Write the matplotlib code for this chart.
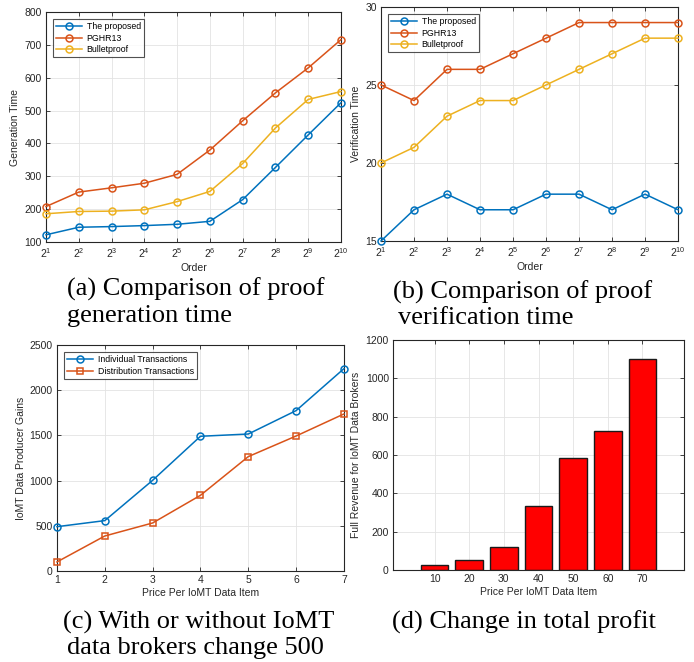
import matplotlib
matplotlib.use("Agg")
import matplotlib.pyplot as plt

plt.rcParams["font.family"] = ["Liberation Sans", "DejaVu Sans"]
plt.rcParams["mathtext.default"] = "regular"

BLUE = "#0072BD"
ORANGE = "#D95319"
YELLOW = "#EDB120"
AXIS_GRAY = "#262626"

# (a) / (b) data
orders = list(range(1, 11))
order_labels = [f"$2^{{{k}}}$" for k in orders]

gen_proposed = [122, 145, 147, 150, 154, 163, 229, 327, 426, 524]
gen_pghr13 = [208, 252, 265, 279, 306, 380, 469, 554, 630, 716]
gen_bulletproof = [186, 193, 194, 198, 223, 254, 339, 447, 534, 558]

ver_proposed = [15, 17, 18, 17, 17, 18, 18, 17, 18, 17]
ver_pghr13 = [25, 24, 26, 26, 27, 28, 29, 29, 29, 29]
ver_bulletproof = [20, 21, 23, 24, 24, 25, 26, 27, 28, 28]

# (c) data
prices = [1, 2, 3, 4, 5, 6, 7]
individual_gains = [490, 557, 1003, 1490, 1515, 1774, 2238]
distribution_gains = [100, 387, 531, 837, 1265, 1493, 1737]

# (d) data
bar_prices = [10, 20, 30, 40, 50, 60, 70]
broker_revenue = [27, 50, 122, 335, 583, 726, 1100]


def style_axes(ax):
    ax.grid(True, color="#E3E3E3", linewidth=0.6)
    ax.set_axisbelow(True)
    for spine in ax.spines.values():
        spine.set_color(AXIS_GRAY)
        spine.set_linewidth(0.8)
    ax.tick_params(direction="in", top=True, right=True, length=3,
                   width=0.6, colors=AXIS_GRAY, labelsize=7.5, pad=3)
    for lbl in ax.get_xticklabels() + ax.get_yticklabels():
        lbl.set_color(AXIS_GRAY)


def add_legend(ax, loc="upper left"):
    leg = ax.legend(loc=loc, fontsize=6.3, frameon=True, fancybox=False,
                    edgecolor=AXIS_GRAY, borderpad=0.35, labelspacing=0.3,
                    handlelength=3.0, handletextpad=0.5, borderaxespad=0.8)
    leg.get_frame().set_linewidth(0.8)


line_kw = dict(linewidth=1.1, markersize=5, markerfacecolor="none",
               markeredgewidth=1.1, clip_on=False, zorder=3)

fig = plt.figure(figsize=(6.94, 6.62), dpi=100)

# (a) Generation time
ax_a = fig.add_axes([0.0663, 0.6344, 0.425, 0.3474])
ax_a.plot(orders, gen_proposed, "-o", color=BLUE, label="The proposed", **line_kw)
ax_a.plot(orders, gen_pghr13, "-o", color=ORANGE, label="PGHR13", **line_kw)
ax_a.plot(orders, gen_bulletproof, "-o", color=YELLOW, label="Bulletproof", **line_kw)
ax_a.set_xlim(1, 10)
ax_a.set_ylim(100, 800)
ax_a.set_xticks(orders)
ax_a.set_xticklabels(order_labels, fontsize=9)
ax_a.set_yticks(range(100, 801, 100))
ax_a.set_xlabel("Order", fontsize=7.5, color=AXIS_GRAY, labelpad=2)
ax_a.set_ylabel("Generation Time", fontsize=7.5, color=AXIS_GRAY, labelpad=3)
style_axes(ax_a)
add_legend(ax_a)

# (b) Verification time
ax_b = fig.add_axes([0.549, 0.636, 0.428, 0.3535])
ax_b.plot(orders, ver_proposed, "-o", color=BLUE, label="The proposed", **line_kw)
ax_b.plot(orders, ver_pghr13, "-o", color=ORANGE, label="PGHR13", **line_kw)
ax_b.plot(orders, ver_bulletproof, "-o", color=YELLOW, label="Bulletproof", **line_kw)
ax_b.set_xlim(1, 10)
ax_b.set_ylim(15, 30)
ax_b.set_xticks(orders)
ax_b.set_xticklabels(order_labels, fontsize=9)
ax_b.set_yticks([15, 20, 25, 30])
ax_b.set_xlabel("Order", fontsize=7.5, color=AXIS_GRAY, labelpad=2)
ax_b.set_ylabel("Verification Time", fontsize=7.5, color=AXIS_GRAY, labelpad=3)
style_axes(ax_b)
add_legend(ax_b)

# (c) Producer gains
ax_c = fig.add_axes([0.0821, 0.1375, 0.4135, 0.3414])
ax_c.plot(prices, individual_gains, "-o", color=BLUE,
          label="Individual Transactions", **line_kw)
ax_c.plot(prices, distribution_gains, "-s", color=ORANGE,
          label="Distribution Transactions", linewidth=1.1, markersize=4.5,
          markerfacecolor="none", markeredgewidth=1.1, clip_on=False, zorder=3)
ax_c.set_xlim(1, 7)
ax_c.set_ylim(0, 2500)
ax_c.set_xticks(prices)
ax_c.set_yticks(range(0, 2501, 500))
ax_c.set_xlabel("Price Per IoMT Data Item", fontsize=7.5, color=AXIS_GRAY, labelpad=2)
ax_c.set_ylabel("IoMT Data Producer Gains", fontsize=7.5, color=AXIS_GRAY, labelpad=3)
style_axes(ax_c)
add_legend(ax_c)

# (d) Broker revenue
ax_d = fig.add_axes([0.5663, 0.139, 0.4193, 0.3474])
ax_d.bar(bar_prices, broker_revenue, width=8, color="#FF0000",
         edgecolor="#1A1A1A", linewidth=1.0)
ax_d.set_xlim(-2, 82)
ax_d.set_ylim(0, 1200)
ax_d.set_xticks(bar_prices)
ax_d.set_yticks(range(0, 1201, 200))
ax_d.set_xlabel("Price Per IoMT Data Item", fontsize=7.5, color=AXIS_GRAY, labelpad=2)
ax_d.set_ylabel("Full Revenue for IoMT Data Brokers", fontsize=7.5,
                color=AXIS_GRAY, labelpad=3)
style_axes(ax_d)

# captions, one text per line
cap_kw = dict(fontsize=19, family="Liberation Serif", color="black",
              ha="left", va="center")
captions = [
    (67, 289, "(a) Comparison of proof"),
    (67, 316, "generation time"),
    (393, 292, "(b) Comparison of proof"),
    (398, 318, "verification time"),
    (63, 622, "(c) With or without IoMT"),
    (67, 648, "data brokers change 500"),
    (392, 622, "(d) Change in total profit"),
]
for x_px, y_px, text in captions:
    fig.text(x_px / 694, 1 - y_px / 662, text, **cap_kw)

fig.savefig("out.png", dpi=100)
